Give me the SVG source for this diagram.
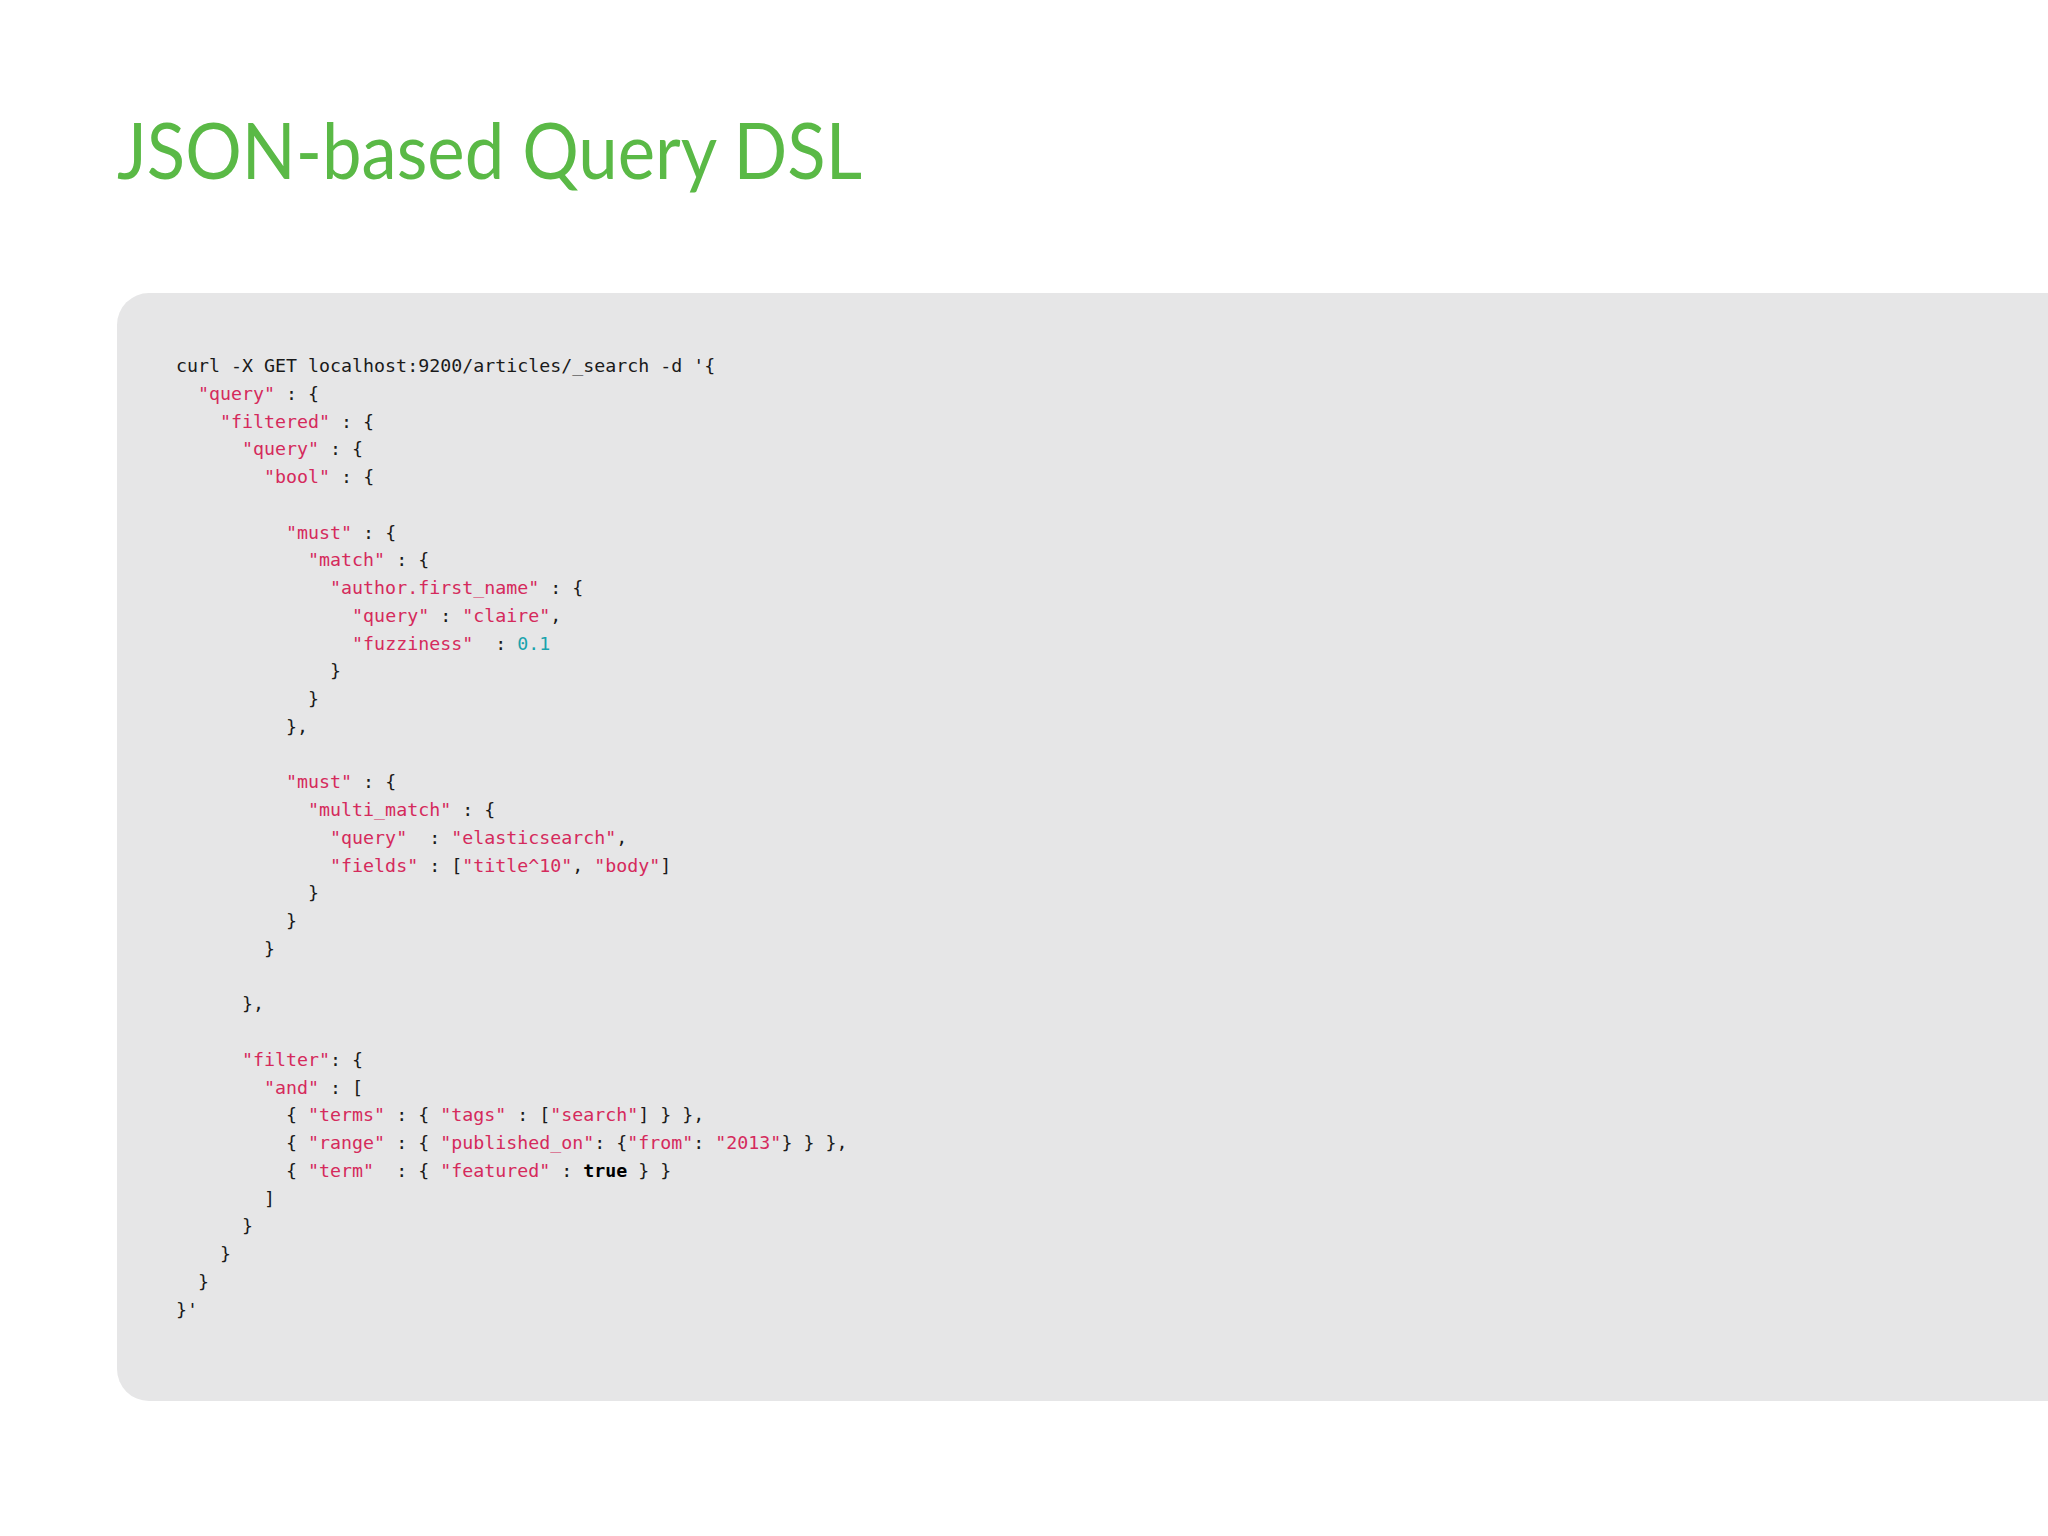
<svg xmlns="http://www.w3.org/2000/svg" width="2048" height="1536" viewBox="0 0 2048 1536" xml:space="preserve">
<style>
.c text,.c tspan{font-family:"DejaVu Sans Mono","Liberation Mono",monospace;font-size:18.3px;fill:#1a1a1a;white-space:pre}
.c .s{fill:#d52a5c}
.c .n{fill:#1aa3ad}
.c .b{font-weight:bold;fill:#000}
</style>
<rect width="2048" height="1536" fill="#ffffff"/>
<text x="117" y="179" font-family="Lato, 'Open Sans', sans-serif" font-size="78" fill="#5ab946" textLength="745" lengthAdjust="spacingAndGlyphs">JSON-based Query DSL</text>
<rect x="117" y="293" width="2000" height="1108" rx="32" fill="#e6e6e7"/>
<g id="code" class="c">
<text x="176" y="372">curl -X GET localhost:9200/articles/_search -d '{</text>
<text x="176" y="399.75">  <tspan class="s">"query"</tspan> : {</text>
<text x="176" y="427.5">    <tspan class="s">"filtered"</tspan> : {</text>
<text x="176" y="455.25">      <tspan class="s">"query"</tspan> : {</text>
<text x="176" y="483">        <tspan class="s">"bool"</tspan> : {</text>
<text x="176" y="538.5">          <tspan class="s">"must"</tspan> : {</text>
<text x="176" y="566.25">            <tspan class="s">"match"</tspan> : {</text>
<text x="176" y="594">              <tspan class="s">"author.first_name"</tspan> : {</text>
<text x="176" y="621.75">                <tspan class="s">"query"</tspan> : <tspan class="s">"claire"</tspan>,</text>
<text x="176" y="649.5">                <tspan class="s">"fuzziness"</tspan>  : <tspan class="n">0.1</tspan></text>
<text x="176" y="677.25">              }</text>
<text x="176" y="705">            }</text>
<text x="176" y="732.75">          },</text>
<text x="176" y="788.25">          <tspan class="s">"must"</tspan> : {</text>
<text x="176" y="816">            <tspan class="s">"multi_match"</tspan> : {</text>
<text x="176" y="843.75">              <tspan class="s">"query"</tspan>  : <tspan class="s">"elasticsearch"</tspan>,</text>
<text x="176" y="871.5">              <tspan class="s">"fields"</tspan> : [<tspan class="s">"title^10"</tspan>, <tspan class="s">"body"</tspan>]</text>
<text x="176" y="899.25">            }</text>
<text x="176" y="927">          }</text>
<text x="176" y="954.75">        }</text>
<text x="176" y="1010.25">      },</text>
<text x="176" y="1065.75">      <tspan class="s">"filter"</tspan>: {</text>
<text x="176" y="1093.5">        <tspan class="s">"and"</tspan> : [</text>
<text x="176" y="1121.25">          { <tspan class="s">"terms"</tspan> : { <tspan class="s">"tags"</tspan> : [<tspan class="s">"search"</tspan>] } },</text>
<text x="176" y="1149">          { <tspan class="s">"range"</tspan> : { <tspan class="s">"published_on"</tspan>: {<tspan class="s">"from"</tspan>: <tspan class="s">"2013"</tspan>} } },</text>
<text x="176" y="1176.75">          { <tspan class="s">"term"</tspan>  : { <tspan class="s">"featured"</tspan> : <tspan class="b">true</tspan> } }</text>
<text x="176" y="1204.5">        ]</text>
<text x="176" y="1232.25">      }</text>
<text x="176" y="1260">    }</text>
<text x="176" y="1287.75">  }</text>
<text x="176" y="1315.5">}'</text>
</g>
</svg>
